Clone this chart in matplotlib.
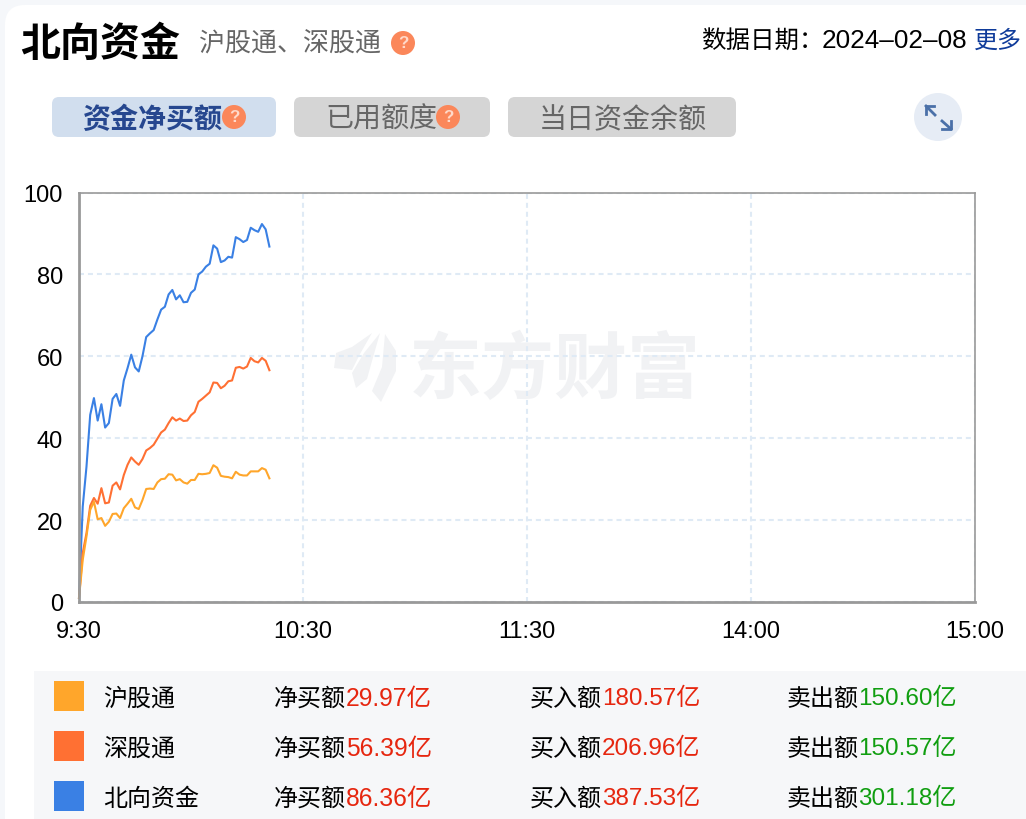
import matplotlib
matplotlib.use("Agg")
import matplotlib.pyplot as plt
from matplotlib.patches import FancyBboxPatch, Circle, Rectangle, Polygon

FONT = ['Liberation Sans', 'Noto Sans CJK SC', 'DejaVu Sans']
CJK = ['Noto Sans CJK SC', 'DejaVu Sans']
plt.rcParams['font.family'] = FONT

# minutes since 9:30
minutes = list(range(52))
sh_connect = [1, 10.3, 16, 22.5, 24.5, 20.2, 20.5, 18.6, 19.6, 21.5, 21.6, 20.5, 22.9, 24, 25.2, 23.1, 22.7, 24.9,
              27.6, 27.7, 27.6, 29.2, 30, 30.1, 31.2, 31.1, 29.7, 30, 29.2, 28.9, 29.8, 29.8, 31.3, 31.2, 31.3, 31.5,
              33.4, 32.8, 30.8, 30.6, 30.5, 30.2, 31.8, 31.1, 30.9, 30.9, 31.9, 31.9, 31.9, 32.7, 32.3, 30.2]
sz_connect = [1, 12, 16.8, 23.5, 25.4, 24, 27.8, 24.1, 24.3, 28.4, 29.2, 27.5, 31, 33.5, 35.3, 34.3, 33.5, 34.9,
              37, 37.6, 38.4, 39.9, 41.4, 42.1, 43.7, 45.1, 44.3, 44.8, 44.2, 44.3, 45.6, 46.4, 48.9, 49.6, 50.4, 51.2,
              53.6, 53.5, 52.2, 52.8, 53.9, 54.1, 57.2, 57.4, 57, 57.5, 59.6, 58.8, 58.5, 59.6, 58.9, 56.6]
northbound = [1, 23.3, 33, 45.7, 49.8, 44.3, 48.3, 42.6, 43.7, 49.6, 50.8, 47.9, 54.1, 57.1, 60.4, 57.3, 56.3, 60,
              64.7, 65.6, 66.4, 69, 71.4, 72.1, 75.1, 76.2, 73.9, 74.9, 73.2, 73.3, 75.5, 76.3, 80, 80.7, 81.9, 82.6,
              87.1, 86.3, 83, 83.4, 84.3, 84.1, 89.1, 88.6, 87.9, 88.4, 91.4, 90.8, 90.4, 92.3, 91, 86.8]
x_ticks = [0, 60, 120, 180, 240]
x_labels = ['9:30', '10:30', '11:30', '14:00', '15:00']
y_ticks = [0, 20, 40, 60, 80, 100]

series_names = ['沪股通', '深股通', '北向资金']
series_colors = ['#FFA62B', '#FF7033', '#3A80E4']
net_values = ['29.97亿', '56.39亿', '86.36亿']
buy_values = ['180.57亿', '206.96亿', '387.53亿']
sell_values = ['150.60亿', '150.57亿', '301.18亿']
data_date = '2024–02–08'

W, H = 1026, 820
fig = plt.figure(figsize=(W / 100, H / 100), dpi=100, facecolor='#F5F7FA')

# page chrome in pixel coordinates
bg = fig.add_axes([0, 0, 1, 1], zorder=0)
bg.set_xlim(0, W)
bg.set_ylim(H, 0)
bg.axis('off')


def rbox(x0, y0, x1, y1, r, color, z=1):
    bg.add_patch(FancyBboxPatch((x0 + r, y0 + r), x1 - x0 - 2 * r, y1 - y0 - 2 * r,
                                boxstyle=f'round,pad={r},rounding_size={r}',
                                fc=color, ec='none', zorder=z))


def txt(x, y, s, size, color='black', ha='left', weight='normal', family=None, z=5):
    return bg.text(x, y + 2, s, fontsize=size * 0.72, color=color, ha=ha, va='center',
                   fontweight=weight, family=family or FONT, zorder=z)


def badge(x, y, r=12):
    bg.add_patch(Circle((x, y), r, fc='#FB875A', ec='none', zorder=4))
    txt(x, y - 2, '?', 17, color='#FFD9C9', ha='center', weight='bold')


rbox(5, 6, 1200, 900, 20, 'white', 0.5)

txt(20, 42, '北向资金', 40, weight='bold', family=CJK)
txt(199, 42, '沪股通、深股通', 26, color='#666666', family=CJK)
badge(403, 44)
txt(701, 39, '数据日期：', 24.5, family=CJK)
txt(822, 39, data_date, 26.1)
txt(974, 39, '更多', 24, color='#0F3B9A', family=CJK)

rbox(52, 98, 276, 138, 7, '#D1DEEE')
txt(82, 118, '资金净买额', 28, color='#26478F', weight='bold', family=CJK)
badge(234, 118)
rbox(294, 98, 490, 138, 7, '#D5D5D5')
txt(325, 118, '已用额度', 28, color='#666666', family=CJK)
badge(448, 118)
rbox(508, 98, 736, 138, 7, '#D5D5D5')
txt(539, 118, '当日资金余额', 28, color='#666666', family=CJK)

# expand icon
bg.add_patch(Circle((938, 118), 24, fc='#E6ECF5', ec='none', zorder=2))
arrow_c = '#4A70A8'
bg.plot([926, 935], [107, 116], color=arrow_c, lw=2, zorder=3)
bg.plot([926, 926, 934], [115, 107, 107], color=arrow_c, lw=2, zorder=3)
bg.plot([942, 951], [122, 130], color=arrow_c, lw=2, zorder=3)
bg.plot([942, 951, 951], [130, 130, 122], color=arrow_c, lw=2, zorder=3)

# watermark
wm = '#F1F2F4'
txt(409, 370, '东方财富', 73, color=wm, weight='bold', family=CJK, z=1)
bg.add_patch(Polygon([(334, 369), (336, 354), (352, 348), (372, 334), (360, 355), (352, 371)], fc=wm, ec='none', zorder=1))
bg.add_patch(Polygon([(356, 389), (352, 374), (364, 354), (380, 334), (372, 362), (367, 380)], fc=wm, ec='none', zorder=1))
bg.add_patch(Polygon([(381, 403), (372, 392), (382, 368), (385, 335), (396, 352), (396, 372)], fc=wm, ec='none', zorder=1))

# legend panel
bg.add_patch(Rectangle((34, 672), 1100, 200, fc='#F6F7F9', ec='none', zorder=1))
rows_y = [697, 747, 797]
for y, name, color, net, buy, sell in zip(rows_y, series_names, series_colors, net_values, buy_values, sell_values):
    bg.add_patch(Rectangle((54, y - 15), 30, 30, fc=color, ec='none', zorder=2))
    txt(103, y, name, 24, family=CJK)
    txt(274, y, '净买额', 24, family=CJK)
    txt(346, y, net, 24.6, color='#E6260F')
    txt(530, y, '买入额', 24, family=CJK)
    txt(602, y, buy, 24.2, color='#E6260F')
    txt(786, y, '卖出额', 24, family=CJK)
    txt(858, y, sell, 24.2, color='#109E10')

# chart
L, R, T, B = 79, 975, 193.5, 603
ax = fig.add_axes([L / W, 1 - B / H, (R - L) / W, (B - T) / H], zorder=2)
ax.patch.set_alpha(0)
ax.set_xlim(0, 240)
ax.set_ylim(0, 100)
ax.set_xticks(x_ticks, x_labels)
ax.set_yticks(y_ticks)
ax.tick_params(length=0, labelsize=17, colors='black')
ax.tick_params(axis='x', pad=13)
ax.tick_params(axis='y', pad=11.5)
ax.grid(True, color='#DFEAF5', lw=1.5, ls=(0, (2.4, 1.9)))
ax.set_axisbelow(True)
for s, sp in ax.spines.items():
    sp.set_color('#999999')
    sp.set_linewidth(2 if s in ('left', 'bottom') else 1.2)
for vals, c in zip([northbound, sz_connect, sh_connect], series_colors[::-1]):
    ax.plot(minutes, vals, color=c, lw=1.5, solid_joinstyle='round', clip_on=False)

fig.savefig('out.png', dpi=100, facecolor=fig.get_facecolor())
